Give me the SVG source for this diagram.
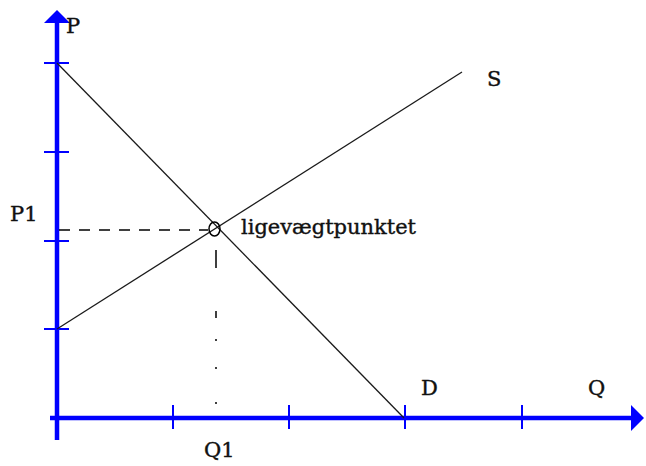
<svg xmlns="http://www.w3.org/2000/svg" width="646" height="466" viewBox="0 0 646 466">
<style>
.axis{stroke:#0000ff;stroke-width:4.5;fill:none}
.tick{stroke:#0000ff;stroke-width:2;fill:none}
.curve{stroke:#1a1a1a;stroke-width:1.3;fill:none}
.guide{stroke:#000;stroke-width:1.5;fill:none}
.lbl{font-family:"DejaVu Serif","Liberation Serif",serif;font-size:21px;fill:#111;stroke:#111;stroke-width:0.4}
</style>
<rect width="646" height="466" fill="#fff"/>
<g id="axes">
<line class="axis" x1="57" y1="440" x2="57" y2="20"/>
<polygon points="57,10 44,23 70,23" fill="#0000ff"/>
<line class="axis" x1="50" y1="418" x2="633" y2="418"/>
<polygon points="644,418 631,405 631,431" fill="#0000ff"/>
<g class="tick">
<line x1="44" y1="63" x2="69" y2="63"/>
<line x1="44" y1="152" x2="69" y2="152"/>
<line x1="44" y1="241" x2="69" y2="241"/>
<line x1="44" y1="329" x2="69" y2="329"/>
<line x1="173" y1="405" x2="173" y2="429"/>
<line x1="289" y1="405" x2="289" y2="429"/>
<line x1="405" y1="405" x2="405" y2="429"/>
<line x1="522" y1="405" x2="522" y2="429"/>
</g>
</g>
<g id="connectors">
<line id="demand" class="curve" x1="57" y1="63" x2="404" y2="418"/>
<line id="supply" class="curve" x1="57" y1="329" x2="462" y2="72"/>
<line id="p1-guide" class="guide" x1="59" y1="230" x2="208" y2="230" stroke-dasharray="11 9"/>
<path id="q1-guide" class="guide" d="M216,250V268M216,311V318M216,339V341M216,367V369M216,402V404"/>
</g>
<g id="equilibrium">
<ellipse cx="214.5" cy="229" rx="5.5" ry="7" fill="none" stroke="#000" stroke-width="1.5"/>
<text class="lbl" x="241" y="234" textLength="175" lengthAdjust="spacingAndGlyphs">ligevægtpunktet</text>
</g>
<g id="labels">
<text class="lbl" x="66" y="33">P</text>
<text class="lbl" x="10" y="221">P1</text>
<text class="lbl" x="487" y="86">S</text>
<text class="lbl" x="421" y="395">D</text>
<text class="lbl" x="588" y="395">Q</text>
<text class="lbl" x="204" y="457">Q1</text>
</g>
</svg>
